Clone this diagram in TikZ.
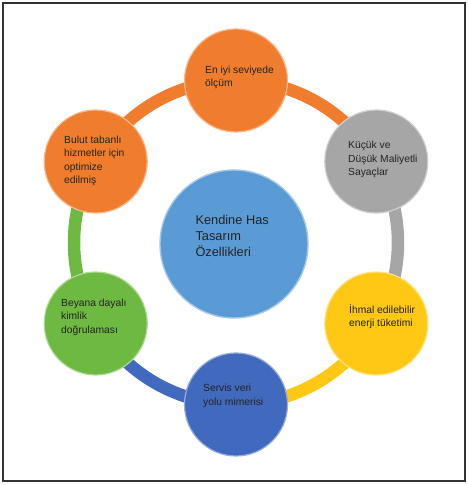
\documentclass[tikz,border=0pt]{standalone}
\usepackage{fontspec}
\setmainfont{Liberation Sans}
\usetikzlibrary{backgrounds,calc}
\definecolor{corange}{RGB}{240,125,45}
\definecolor{cgray}{RGB}{166,166,166}
\definecolor{cyellow}{RGB}{255,200,20}
\definecolor{cblue}{RGB}{65,105,190}
\definecolor{cgreen}{RGB}{110,185,65}
\definecolor{ccenter}{RGB}{90,155,213}
\definecolor{ctext}{RGB}{35,35,35}
\begin{document}
\begin{tikzpicture}[x=1pt,y=1pt,
  bubble/.style={circle, minimum size=103pt, inner sep=0pt, fill=#1, draw=#1!55!white, line width=1.2pt},
  bigbubble/.style={circle, minimum size=148pt, inner sep=0pt, fill=#1, draw=#1!55!white, line width=1.4pt},
  ringarc/.style={draw=#1, line width=12.5pt},
  smalltext/.style={anchor=west, inner sep=0pt, align=left, text=ctext, font=\fontsize{10.3}{13.5}\selectfont},
  bigtext/.style={anchor=west, inner sep=0pt, align=left, text=ctext, font=\fontsize{12.8}{16}\selectfont}]
\useasboundingbox (0,0) rectangle (468,485);
\draw[line width=2pt, draw=black!80] (3,4) rectangle (465,482);
\coordinate (ringc) at (236,242.5);
\node[bubble=corange] (n1) at ($(ringc)+(90:162)$) {};
\node[bubble=cgray] (n2) at ($(ringc)+(30:162)$) {};
\node[bubble=cyellow] (n3) at ($(ringc)+(-30:162)$) {};
\node[bubble=cblue] (n4) at ($(ringc)+(-90:162)$) {};
\node[bubble=cgreen] (n5) at ($(ringc)+(210:162)$) {};
\node[bubble=corange] (n6) at ($(ringc)+(150:162)$) {};
\node[bigbubble=ccenter] (c) at (234,241) {};
\begin{scope}[on background layer]
\draw[ringarc=corange] (n1.center) arc[start angle=90, end angle=30, radius=162];
\draw[ringarc=cgray] (n2.center) arc[start angle=30, end angle=-30, radius=162];
\draw[ringarc=cyellow] (n3.center) arc[start angle=-30, end angle=-90, radius=162];
\draw[ringarc=cblue] (n4.center) arc[start angle=-90, end angle=-150, radius=162];
\draw[ringarc=cgreen] (n5.center) arc[start angle=210, end angle=150, radius=162];
\draw[ringarc=corange] (n6.center) arc[start angle=150, end angle=90, radius=162];
\end{scope}
\node[smalltext] (t1) at (205,407.5) {En iyi seviyede\\ölçüm};
\node[smalltext] (t2) at (348,325.3) {Küçük ve\\Düşük Maliyetli\\Sayaçlar};
\node[smalltext] (t3) at (349,168.3) {İhmal edilebilir\\enerji tüketimi};
\node[smalltext] (t4) at (203,89) {Servis veri\\yolu mimerisi};
\node[smalltext] (t5) at (61,168) {Beyana dayalı\\kimlik\\doğrulaması};
\node[smalltext] (t6) at (64,324.2) {Bulut tabanlı\\hizmetler için\\optimize\\edilmiş};
\node[bigtext] (tc) at (195.3,249) {Kendine Has\\Tasarım\\Özellikleri};
\end{tikzpicture}
\end{document}
